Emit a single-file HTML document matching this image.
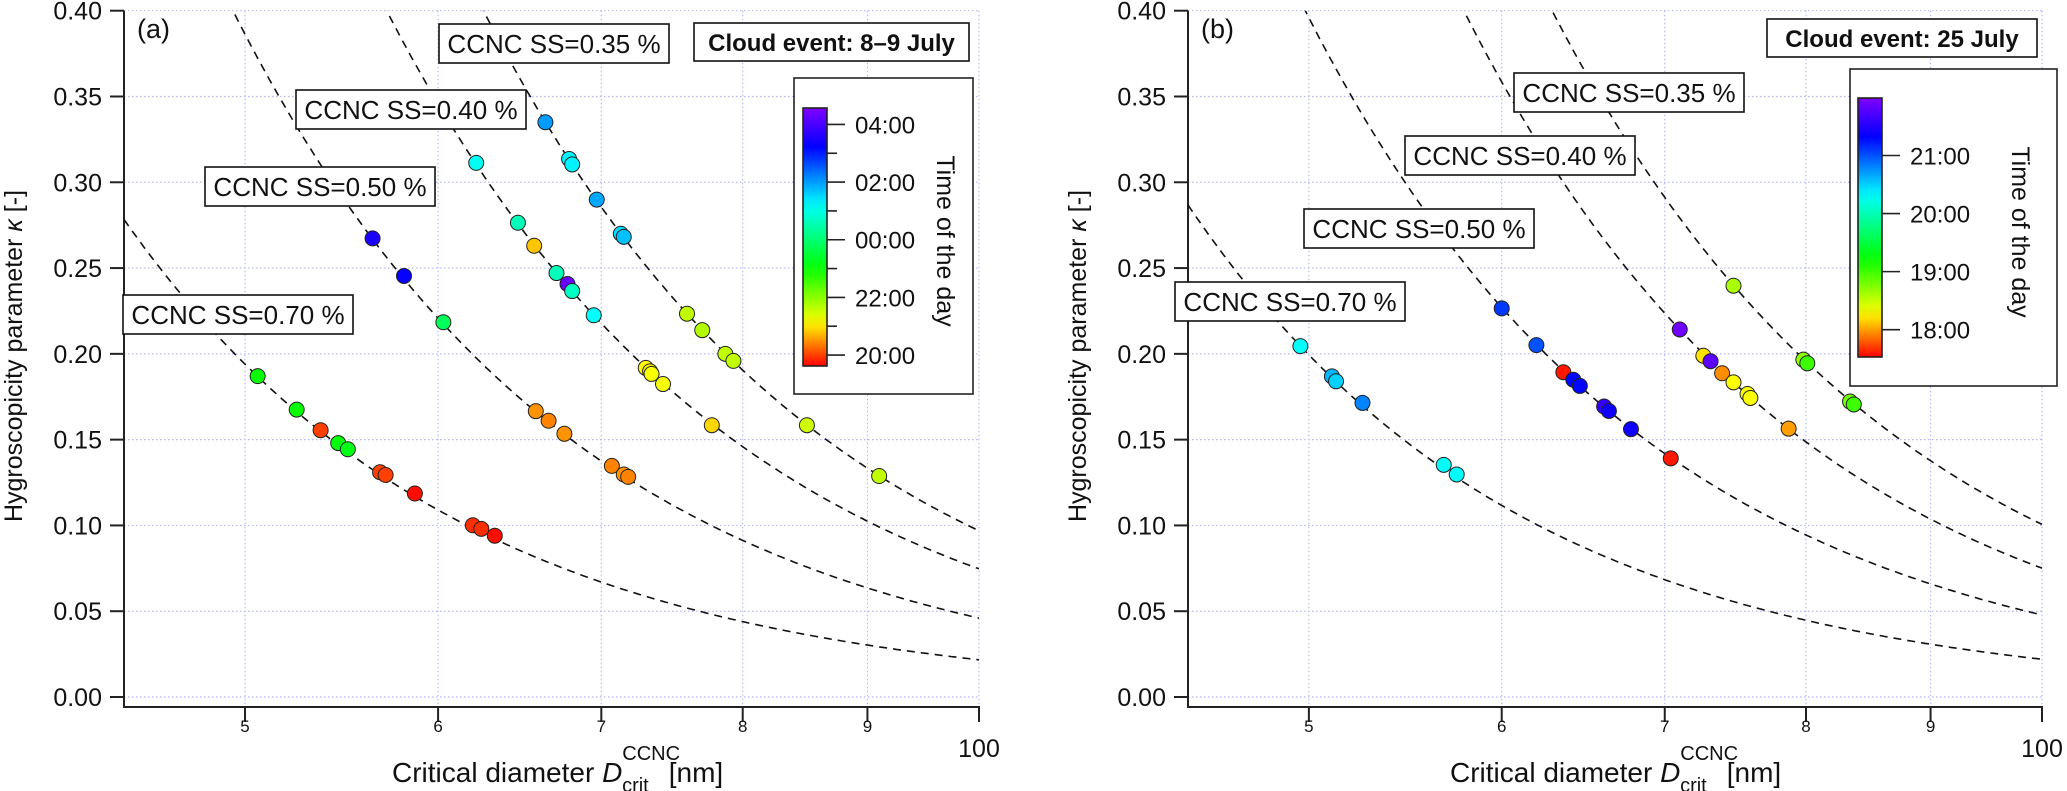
<!DOCTYPE html>
<html><head><meta charset="utf-8">
<style>
html,body{margin:0;padding:0;background:#fff;}
svg{display:block;font-family:"Liberation Sans",Arial,sans-serif;}
</style></head>
<body>
<svg id="chart" width="2067" height="791" viewBox="0 0 2067 791" xmlns="http://www.w3.org/2000/svg"></svg>
<script>
// ---------- data ----------
const yTickValues = [0, 0.05, 0.10, 0.15, 0.20, 0.25, 0.30, 0.35, 0.40];
const yTickLabels = ["0.00","0.05","0.10","0.15","0.20","0.25","0.30","0.35","0.40"];
const xTickValues = [50, 60, 70, 80, 90, 100];
const xTickLabels = ["5","6","7","8","9","100"];
const ssLabels = ["CCNC SS=0.35 %","CCNC SS=0.40 %","CCNC SS=0.50 %","CCNC SS=0.70 %"];
// Köhler curves: kappa at D=100 nm and power exponent
const curveK100A = [0.0969, 0.0747, 0.046, 0.0217];
const curveExpA  = [3.03, 3.0, 3.07, 3.16];
const curveK100B = [0.1006, 0.0751, 0.0478, 0.022];
const curveExpB  = [2.98, 3.06, 3.05, 3.18];

// Panel (a) points: diameter (nm), kappa, time (h, >24 = next day)
const a35D = [66.4,67.9,68.1,69.7,71.3,71.5,75.9,77.0,78.7,79.3,85.0,91.0];
const a35K = [0.335,0.3136,0.3104,0.2899,0.270,0.2682,0.2234,0.2138,0.200,0.1959,0.1584,0.1288];
const a35T = [26.0,25.3,25.3,25.9,25.5,25.7,21.6,21.7,21.6,21.6,21.5,21.6];
const a40D = [62.2,64.7,65.7,67.1,67.8,68.1,69.5,73.0,73.3,73.4,74.2,77.7];
const a40K = [0.3113,0.2764,0.263,0.2471,0.2407,0.2366,0.2225,0.1918,0.1898,0.1883,0.1824,0.1584];
const a40T = [25.1,24.6,20.8,24.6,28.3,24.7,25.2,21.1,21.1,21.2,21.2,20.9];
const a50D = [56.4,58.1,60.3,65.8,66.6,67.6,70.7,71.5,71.8];
const a50K = [0.2673,0.2454,0.2184,0.1666,0.161,0.1534,0.1347,0.1297,0.1283];
const a50T = [27.5,27.3,23.8,20.5,20.4,20.5,20.4,20.5,20.4];
const a70D = [50.6,52.5,53.7,54.6,55.1,56.8,57.1,58.7,62.0,62.5,63.3];
const a70K = [0.187,0.1675,0.1555,0.148,0.1444,0.131,0.1294,0.1186,0.1001,0.098,0.094];
const a70T = [23.0,23.0,20.0,23.1,23.2,20.0,20.0,19.7,19.9,19.9,19.7];

// Panel (b) points
const b35D = [74.7,79.8,80.1,83.4,83.7];
const b35K = [0.2397,0.1966,0.1945,0.1722,0.1705];
const b35T = [18.6,18.7,19.0,18.8,19.0];
const b40D = [71.0,72.6,73.1,73.9,74.7,75.7,75.9,78.7];
const b40K = [0.2142,0.1989,0.1957,0.1887,0.1834,0.1766,0.1743,0.1564];
const b40T = [21.9,18.2,21.8,17.95,18.3,18.3,18.3,18.0];
const b50D = [60.0,62.0,63.6,64.2,64.6,66.1,66.4,67.8,70.4];
const b50K = [0.2265,0.2051,0.1893,0.1849,0.1813,0.1693,0.1667,0.1561,0.1391];
const b50T = [21.1,21.0,17.6,21.3,21.3,21.6,21.4,21.4,17.6];
const b70D = [49.6,51.1,51.3,52.6,56.8,57.5];
const b70K = [0.2045,0.1869,0.184,0.1714,0.1353,0.1297];
const b70T = [20.3,20.6,20.5,20.8,20.3,20.3];

const cbTicksA = [20, 22, 24, 26, 28];
const cbLabelsA = ["20:00","22:00","00:00","02:00","04:00"];
const cbMinorA = [21, 23, 25, 27];
const cbTicksB = [18, 19, 20, 21];
const cbLabelsB = ["18:00","19:00","20:00","21:00"];
const cbRangeA = [19.62, 28.57];
const cbRangeB = [17.53, 21.99];

// ---------- drawing ----------
const NS = "http://www.w3.org/2000/svg";
const svg = document.getElementById("chart");
function mk(tag, attrs, parent){
  const e = document.createElementNS(NS, tag);
  for (const k in attrs) e.setAttribute(k, attrs[k]);
  (parent||svg).appendChild(e);
  return e;
}
const hueStops = [[0,0],[0.17,60],[0.38,120],[0.625,180],[0.85,240],[1,270]];
function hueAt(f){
  f = Math.max(0, Math.min(1, f));
  for (let i=1;i<hueStops.length;i++){
    if (f <= hueStops[i][0]){
      const a=hueStops[i-1], b=hueStops[i];
      return a[1] + (b[1]-a[1])*(f-a[0])/(b[0]-a[0]);
    }
  }
  return 270;
}
function colorAt(f){ return "hsl(" + hueAt(f).toFixed(1) + ",100%,50%)"; }

const Y0 = 697, YTOP = 10.7, YAX = 707;
const kPerPx = 0.4/(Y0-YTOP);
function yS(k){ return Y0 - k/kPerPx; }
const XMIN = 44.6, XMAX = 100;

function drawPanel(p){
  const g = mk("g", {});
  
  
  const xS = d => p.x0 + (Math.log10(d) - Math.log10(XMIN)) / (Math.log10(XMAX)-Math.log10(XMIN)) * (p.x1 - p.x0);
  const clipId = "clip-" + p.name;
  const defs = mk("defs", {}, g);
  const cp = mk("clipPath", {id: clipId}, defs);
  mk("rect", {x:p.x0, y:YTOP, width:p.x1-p.x0, height:YAX-YTOP}, cp);

  // grid
  const grid = mk("g", {stroke:"#b8b8f4", "stroke-width":1.2, "stroke-dasharray":"1.5,2.5"}, g);
  
  
  yTickValues.forEach(v => mk("line", {x1:p.x0, x2:p.x1, y1:yS(v), y2:yS(v)}, grid));
  xTickValues.forEach(v => mk("line", {x1:xS(v), x2:xS(v), y1:YTOP, y2:YAX}, grid));

  // axes
  const ax = mk("g", {stroke:"#222", "stroke-width":2, fill:"none"}, g);
  
  
  mk("polyline", {points: `${p.x0},${YTOP} ${p.x0},${YAX} ${p.x1},${YAX} ${p.x1},722`}, ax);
  yTickValues.forEach(v => mk("line", {x1:p.x0-14, x2:p.x0, y1:yS(v), y2:yS(v)}, ax));
  xTickValues.forEach(v => mk("line", {x1:xS(v), x2:xS(v), y1:YAX, y2:722}, ax));

  yTickValues.forEach((v,i) => {
    const t = mk("text", {x:p.x0-22, y:yS(v)+9, "text-anchor":"end", "font-size":25, fill:"#111"}, g);
    
    
    t.textContent = yTickLabels[i];
  });
  xTickValues.forEach((v,i) => {
    const big = i === xTickValues.length-1;
    const t = mk("text", {x:xS(v), y: big ? 757 : 732, "text-anchor":"middle", "font-size": big ? 25 : 17, fill:"#111"}, g);
    
    
    t.textContent = xTickLabels[i];
  });

  // axis titles
  const yt = mk("text", {x:0, y:0, transform:`translate(${p.ytX},356) rotate(-90)`, "text-anchor":"middle", "font-size":25, fill:"#111"}, g);
  
  
  yt.innerHTML = 'Hygroscopicity parameter <tspan font-style="italic">κ</tspan> [-]';
  const xt = mk("text", {x:p.xtX, y:782, "font-size":28, fill:"#111"}, g);
  
  
  xt.innerHTML = 'Critical diameter <tspan font-style="italic">D</tspan><tspan font-size="20" dy="-22">CCNC</tspan><tspan font-size="20" dx="-58" dy="32">crit</tspan><tspan dx="20" dy="-10">[nm]</tspan>';

  // curves
  const cg = mk("g", {"clip-path":`url(#${clipId})`, fill:"none", stroke:"#111", "stroke-width":1.6, "stroke-dasharray":"8,6"}, g);
  p.k100.forEach((k100, i) => {
    let d = "";
    for (let j=0;j<=300;j++){
      const D = XMIN * Math.pow(XMAX/XMIN, j/300);
      const k = k100 * Math.pow(100/D, p.exp[i]);
      d += (j? "L":"M") + xS(D).toFixed(1) + "," + yS(Math.min(k,0.5)).toFixed(1);
    }
    const path = mk("path", {d}, cg);
    
    
  });

  // label boxes
  p.boxes.forEach((b,i) => {
    const bg = mk("g", {}, g);
    
    
    mk("rect", {x:b[0], y:b[1], width:230, height:39, fill:"#fff", stroke:"#111", "stroke-width":1.6}, bg);
    const t = mk("text", {x:b[0]+115, y:b[1]+29, "text-anchor":"middle", "font-size":26, fill:"#111"}, bg);
    t.textContent = ssLabels[i];
  });
  const eg = mk("g", {}, g);
  
  
  mk("rect", {x:p.ev[0], y:p.ev[1], width:p.ev[2], height:38, fill:"#fff", stroke:"#111", "stroke-width":1.6}, eg);
  const et = mk("text", {x:p.ev[0]+p.ev[2]/2, y:p.ev[1]+28, "text-anchor":"middle", "font-size":24, "font-weight":"bold", fill:"#111"}, eg);
  et.textContent = p.evText;

  const pl = mk("text", {x:p.x0+13, y:38, "font-size":27, fill:"#111"}, g);
  
  
  pl.textContent = p.letter;

  // points
  const pg = mk("g", {stroke:"#222", "stroke-width":1}, g);
  
  
  p.series.forEach(s => {
    s[0].forEach((D, i) => {
      const f = (s[2][i] - p.cb.range[0]) / (p.cb.range[1] - p.cb.range[0]);
      const c = mk("circle", {cx:xS(D), cy:yS(s[1][i]), r:7.5, fill:colorAt(f)}, pg);
      
      
    });
  });

  // colorbar
  const cb = p.cb;
  const cbg = mk("g", {}, g);
  
  
  mk("rect", {x:cb.frame[0], y:cb.frame[1], width:cb.frame[2], height:cb.frame[3], fill:"#fff", stroke:"#222", "stroke-width":1.6}, cbg);
  const gid = "grad-" + p.name;
  const lg = mk("linearGradient", {id:gid, x1:0, y1:1, x2:0, y2:0}, defs);
  for (let j=0;j<=20;j++){ mk("stop", {offset:j/20, "stop-color":colorAt(j/20)}, lg); }
  mk("rect", {x:cb.bar[0], y:cb.bar[1], width:24, height:cb.bar[2]-cb.bar[1], fill:`url(#${gid})`, stroke:"#222", "stroke-width":1.6}, cbg);
  const ty = t => cb.bar[2] - (t - cb.range[0])/(cb.range[1]-cb.range[0]) * (cb.bar[2]-cb.bar[1]);
  cb.ticks.forEach((t,i) => {
    mk("line", {x1:cb.bar[0]+24, x2:cb.bar[0]+42, y1:ty(t), y2:ty(t), stroke:"#222", "stroke-width":1.6}, cbg);
    const tt = mk("text", {x:cb.bar[0]+52, y:ty(t)+9, "font-size":24, fill:"#111"}, cbg);
    tt.textContent = cb.labels[i];
  });
  cb.minor.forEach(t => mk("line", {x1:cb.bar[0]+24, x2:cb.bar[0]+34, y1:ty(t), y2:ty(t), stroke:"#222", "stroke-width":1.6}, cbg));
  const tl = mk("text", {x:0, y:0, transform:`translate(${cb.titleX},${cb.titleY}) rotate(90)`, "text-anchor":"middle", "font-size":25, fill:"#111"}, cbg);
  tl.textContent = "Time of the day";
}

drawPanel({
  name:"panel-a", letter:"(a)", x0:124, x1:979, ytX:22, xtX:392,
  k100:curveK100A, exp:curveExpA,
  boxes:[[439,24],[296,90],[205,167],[123,295]],
  ev:[694,23,275], evText:"Cloud event: 8–9 July",
  series:[[a35D,a35K,a35T],[a40D,a40K,a40T],[a50D,a50K,a50T],[a70D,a70K,a70T]],
  cb:{frame:[794,78,179,316], bar:[803,108,366], range:cbRangeA, ticks:cbTicksA, labels:cbLabelsA, minor:cbMinorA, titleX:937, titleY:241}
});
drawPanel({
  name:"panel-b", letter:"(b)", x0:1188, x1:2042, ytX:1086, xtX:1450,
  k100:curveK100B, exp:curveExpB,
  boxes:[[1514,73],[1405,136],[1304,209],[1175,282]],
  ev:[1767,19,270], evText:"Cloud event: 25 July",
  series:[[b35D,b35K,b35T],[b40D,b40K,b40T],[b50D,b50K,b50T],[b70D,b70K,b70T]],
  cb:{frame:[1850,69,207,317], bar:[1858,98,357], range:cbRangeB, ticks:cbTicksB, labels:cbLabelsB, minor:[], titleX:2012, titleY:232}
});
</script>
</body></html>
